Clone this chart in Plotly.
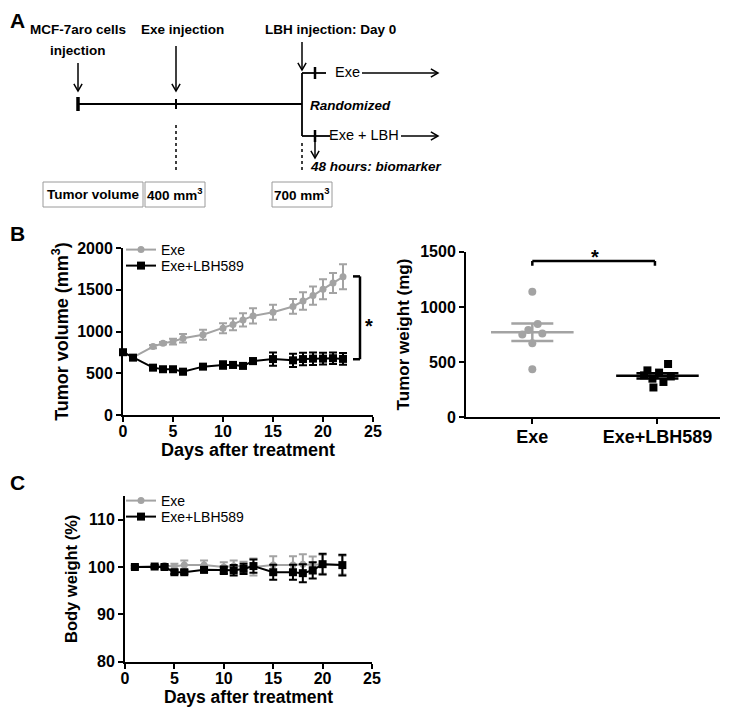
import plotly.graph_objects as go
import numpy as np

REF_W, REF_H = 729, 717
OFF = 8  # page body margin of the browser
W, H = REF_W - OFF, REF_H - OFF
FAM = "Liberation Sans, Arial, sans-serif"
GRAY = "#a3a3a3"
BLACK = "#000000"

# ---------------- Panel B (left): tumor volume ----------------
days_b = [0, 1, 3, 4, 5, 6, 8, 10, 11, 12, 13, 15, 17, 18, 19, 20, 21, 22]
vol_exe = [750, 690, 819, 860, 879, 919, 962, 1040, 1085, 1139, 1187, 1230, 1300, 1365, 1430, 1507, 1580, 1655]
vol_exe_err = [20, 20, 20, 15, 35, 50, 60, 60, 70, 80, 90, 90, 88, 105, 110, 120, 120, 150]
vol_lbh = [752, 687, 567, 548, 548, 519, 579, 598, 600, 588, 645, 670, 655, 670, 675, 675, 680, 672]
vol_lbh_err = [25, 20, 15, 10, 15, 30, 15, 45, 35, 20, 35, 80, 80, 75, 75, 70, 70, 70]

# ---------------- Panel B (right): tumor weight ----------------
groups = ["Exe", "Exe+LBH589"]
weight_exe = [1138, 845, 790, 750, 760, 670, 435]
weight_lbh = [483, 425, 405, 380, 370, 350, 320, 270]
jitter_exe = [0, 0.043, -0.032, -0.08, 0.08, 0, 0]
jitter_lbh = [0.085, -0.08, 0.013, -0.107, 0.107, -0.04, 0.048, -0.032]

# ---------------- Panel C: body weight ----------------
days_c = [1, 3, 4, 5, 6, 8, 10, 11, 12, 13, 15, 17, 18, 19, 20, 22]
bw_exe = [100, 100.1, 100.3, 100.1, 100.4, 100.4, 100.0, 100.2, 100.1, 100.0, 100.4, 100.4, 100.6, 100.4, 100.6, 100.4]
bw_exe_err = [0.2, 0.2, 0.3, 0.6, 1.0, 1.0, 1.0, 1.2, 1.0, 1.8, 1.9, 1.9, 2.1, 1.8, 2.0, 2.0]
bw_lbh = [100, 100.1, 100, 98.9, 98.9, 99.4, 99.3, 99.3, 99.6, 100.2, 98.9, 98.9, 98.7, 99.3, 100.6, 100.4]
bw_lbh_err = [0.3, 0.3, 0.3, 0.4, 0.4, 0.5, 0.8, 1.1, 1.1, 1.4, 1.6, 1.6, 1.9, 1.7, 2.2, 2.2]


def X(p):
    return (p - OFF) / W


def Y(p):
    return 1 - (p - OFF) / H


fig = go.Figure()

# B left traces
fig.add_trace(go.Scatter(
    x=days_b, y=vol_exe, mode="lines+markers", name="Exe",
    line=dict(color=GRAY, width=2), marker=dict(symbol="circle", size=7, color=GRAY),
    error_y=dict(type="data", array=vol_exe_err, color=GRAY, thickness=2, width=4),
    xaxis="x", yaxis="y", legend="legend", cliponaxis=False))
fig.add_trace(go.Scatter(
    x=days_b, y=vol_lbh, mode="lines+markers", name="Exe+LBH589",
    line=dict(color=BLACK, width=2), marker=dict(symbol="square", size=8, color=BLACK),
    error_y=dict(type="data", array=vol_lbh_err, color=BLACK, thickness=2, width=4),
    xaxis="x", yaxis="y", legend="legend2", cliponaxis=False))

# B right traces
for gi, (vals, jit, col, sym, msize) in enumerate([
        (weight_exe, jitter_exe, GRAY, "circle", 8),
        (weight_lbh, jitter_lbh, BLACK, "square", 8)]):
    xs = [gi + j for j in jit]
    fig.add_trace(go.Scatter(
        x=xs, y=vals, mode="markers", marker=dict(symbol=sym, size=msize, color=col),
        xaxis="x2", yaxis="y2", showlegend=False, cliponaxis=False))
    arr = np.array(vals, dtype=float)
    mean = arr.mean()
    sem = arr.std(ddof=1) / np.sqrt(len(arr))
    fig.add_trace(go.Scatter(
        x=[gi - 0.33, gi + 0.33], y=[mean, mean], mode="lines",
        line=dict(color=col, width=2.5), xaxis="x2", yaxis="y2", showlegend=False))
    fig.add_trace(go.Scatter(
        x=[gi], y=[mean], mode="markers", marker=dict(size=1, color=col, opacity=0),
        error_y=dict(type="data", array=[sem], color=col, thickness=2.5, width=21),
        xaxis="x2", yaxis="y2", showlegend=False))

# C traces
fig.add_trace(go.Scatter(
    x=days_c, y=bw_exe, mode="lines+markers", name="Exe",
    line=dict(color=GRAY, width=2), marker=dict(symbol="circle", size=7, color=GRAY),
    error_y=dict(type="data", array=bw_exe_err, color=GRAY, thickness=2, width=4),
    xaxis="x3", yaxis="y3", legend="legend3", cliponaxis=False))
fig.add_trace(go.Scatter(
    x=days_c, y=bw_lbh, mode="lines+markers", name="Exe+LBH589",
    line=dict(color=BLACK, width=2), marker=dict(symbol="square", size=8, color=BLACK),
    error_y=dict(type="data", array=bw_lbh_err, color=BLACK, thickness=2, width=4),
    xaxis="x3", yaxis="y3", legend="legend4", cliponaxis=False))

axis_common = dict(showline=True, linewidth=2, linecolor=BLACK, ticks="outside", ticklen=5,
                   tickwidth=2, tickcolor=BLACK, showgrid=False, zeroline=False, automargin=False,
                   tickfont=dict(family=FAM, size=16, color=BLACK, weight="bold"))
title_font = dict(family=FAM, size=18, color=BLACK, weight="bold")


def leg(xp, yp):
    return dict(x=X(xp), y=Y(yp), xanchor="left", yanchor="top", bgcolor="rgba(0,0,0,0)",
                font=dict(family=FAM, size=14, color=BLACK), itemwidth=30, tracegroupgap=0)


fig.update_layout(
    width=W, height=H, autosize=False,
    margin=dict(l=0, r=0, t=0, b=0, autoexpand=False),
    paper_bgcolor="white", plot_bgcolor="white",
    font=dict(family=FAM, color=BLACK),
    xaxis=dict(domain=[X(123), X(373)], range=[0, 25], anchor="y", tickvals=[0, 5, 10, 15, 20, 25],
               ticklabelstandoff=-4,
               title=dict(text="Days after treatment", font=title_font, standoff=0), **axis_common),
    yaxis=dict(domain=[Y(415), Y(248)], range=[0, 2000], anchor="x", tickvals=[0, 500, 1000, 1500, 2000],
               title=dict(text="Tumor volume (mm<sup>3</sup>)", font=title_font, standoff=4), **axis_common),
    xaxis2=dict(domain=[X(466), X(720)], range=[-0.53, 1.5], anchor="y2", tickvals=[0, 1], ticktext=groups,
                ticklabelstandoff=-3,
                **{**axis_common, "tickfont": dict(family=FAM, size=18, color=BLACK, weight="bold")}),
    yaxis2=dict(domain=[Y(417.3), Y(251.7)], range=[0, 1500], anchor="x2", tickvals=[0, 500, 1000, 1500],
                title=dict(text="Tumor weight (mg)", font=dict(family=FAM, size=17, color=BLACK, weight="bold"),
                           standoff=6), **axis_common),
    xaxis3=dict(domain=[X(125), X(372)], range=[0, 25], anchor="y3", tickvals=[0, 5, 10, 15, 20, 25],
                ticklabelstandoff=-4,
                title=dict(text="Days after treatment", font=dict(family=FAM, size=17.5, color=BLACK, weight="bold"),
                           standoff=0), **axis_common),
    yaxis3=dict(domain=[Y(661.7), Y(496)], range=[80, 115], anchor="x3", tickvals=[80, 90, 100, 110],
                title=dict(text="Body weight (%)", font=dict(family=FAM, size=16.5, color=BLACK, weight="bold"),
                           standoff=6), **axis_common),
    legend=leg(121, 234),
    legend2=leg(121, 250),
    legend3=leg(121, 485),
    legend4=leg(121, 501),
)

shapes = []
annotations = []


def pline(x0, y0, x1, y1, width=1.8, dash="solid", color=BLACK):
    shapes.append(dict(type="line", xref="paper", yref="paper", x0=X(x0), y0=Y(y0), x1=X(x1), y1=Y(y1),
                       line=dict(color=color, width=width, dash=dash)))


def ptext(x, y, text, size=13, bold=True, italic=False, xanchor="center"):
    annotations.append(dict(xref="paper", yref="paper", x=X(x), y=Y(y), text=text, showarrow=False,
                            xanchor=xanchor, yanchor="middle",
                            font=dict(family=FAM, size=size, color=BLACK,
                                      weight="bold" if bold else "normal",
                                      style="italic" if italic else "normal")))


def parrow(xh, yh, xt, yt, head=5.5):
    # shaft
    pline(xt, yt, xh, yh, width=1.5)
    # open V head
    dx, dy = xh - xt, yh - yt
    L = (dx * dx + dy * dy) ** 0.5
    ux, uy = dx / L, dy / L
    px_, py_ = -uy, ux
    bx, by = xh - ux * head * 1.3, yh - uy * head * 1.3
    p1 = (bx + px_ * head * 0.75, by + py_ * head * 0.75)
    p2 = (bx - px_ * head * 0.75, by - py_ * head * 0.75)
    path = "M {:.5f},{:.5f} L {:.5f},{:.5f} L {:.5f},{:.5f}".format(
        X(p1[0]), Y(p1[1]), X(xh), Y(yh), X(p2[0]), Y(p2[1]))
    shapes.append(dict(type="path", xref="paper", yref="paper", path=path,
                       line=dict(color=BLACK, width=1.5)))


# Panel labels
ptext(8, 21, "A", size=21, xanchor="left")
ptext(8, 234, "B", size=21, xanchor="left")
ptext(8, 483, "C", size=21, xanchor="left")

# Panel A timeline
ptext(78, 30, "MCF-7aro cells", size=13.5)
ptext(78, 50, "injection", size=13.5)
ptext(182, 30, "Exe injection", size=13.5)
ptext(330, 30, "LBH injection: Day 0", size=13.5)
parrow(78, 91, 78, 63)
parrow(176, 91, 176, 46)
parrow(302, 70, 302, 42)
pline(78, 104, 302, 104, width=1.8)
pline(78, 97, 78, 111, width=3.5)
pline(176, 99, 176, 109, width=2)
pline(302, 73, 302, 136, width=1.8)
pline(302, 73, 326, 73, width=1.8)
pline(315, 67, 315, 79, width=2.5)
pline(302, 136, 330, 136, width=1.8)
pline(315, 130, 315, 142, width=2.5)
ptext(347, 72, "Exe", size=14.5, bold=False)
parrow(438, 73, 362, 73)
ptext(364, 135, "Exe + LBH", size=14.5, bold=False)
parrow(438, 136, 401, 136)
ptext(308, 105, "Randomized", size=13.5, italic=True, xanchor="left")
parrow(315, 158, 315, 141)
pline(302, 143, 302, 172, width=1.5, dash="dot")
pline(176, 125, 176, 171, width=1.5, dash="dot")
ptext(308, 166, "48 hours: biomarker", size=13.5, italic=True, xanchor="left")

for (x0, x1, label) in [(43, 143, "Tumor volume"), (145, 205, "400 mm<sup>3</sup>"), (272, 332, "700 mm<sup>3</sup>")]:
    shapes.append(dict(type="rect", xref="paper", yref="paper", x0=X(x0), x1=X(x1), y0=Y(207), y1=Y(182),
                       line=dict(color="#9a9a9a", width=1), fillcolor="rgba(0,0,0,0)"))
    ptext((x0 + x1) / 2, 194, label, size=13.5)

# Significance bracket B left
for (x0, y0, x1, y1) in [(23.7, 668, 23.7, 1660), (23.0, 1660, 23.7, 1660), (23.0, 668, 23.7, 668)]:
    shapes.append(dict(type="line", xref="x", yref="y", x0=x0, y0=y0, x1=x1, y1=y1,
                       line=dict(color=BLACK, width=2.5)))
annotations.append(dict(xref="x", yref="y", x=24.55, y=1070, text="*", showarrow=False,
                        font=dict(family=FAM, size=20, color=BLACK, weight="bold")))

# Significance bracket B right
for (x0, y0, x1, y1) in [(0, 1415, 0.98, 1415), (0, 1372, 0, 1415), (0.98, 1372, 0.98, 1415)]:
    shapes.append(dict(type="line", xref="x2", yref="y2", x0=x0, y0=y0, x1=x1, y1=y1,
                       line=dict(color=BLACK, width=2.5)))
annotations.append(dict(xref="x2", yref="y2", x=0.5, y=1455, text="*", showarrow=False,
                        font=dict(family=FAM, size=20, color=BLACK, weight="bold")))

fig.update_layout(shapes=shapes, annotations=annotations)

fig.write_html("out.html")
